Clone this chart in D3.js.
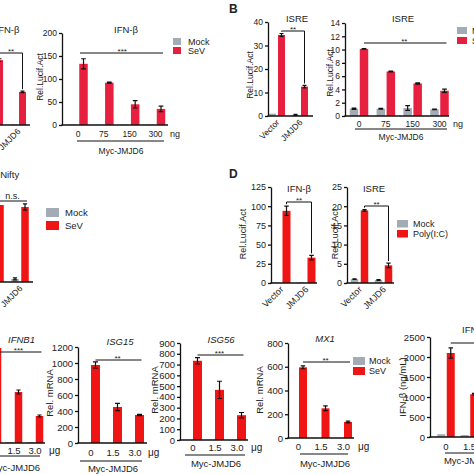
<!DOCTYPE html>
<html><head><meta charset="utf-8">
<script src="https://cdn.jsdelivr.net/npm/d3@7"></script>
<style>
body{margin:0;background:#fff}
svg{display:block}
svg text{font-family:"Liberation Sans",Arial,Helvetica,sans-serif;fill:#222}
</style>
</head><body>
<svg id="c" width="474" height="474"></svg>
<script>
// ---------- categories ----------
const vecCats = ["Vector", "JMJD6"];
const doseNg = ["0", "75", "150", "300"];
const doseUg = ["0", "1.5", "3.0"];
const legendSeV = ["Mock", "SeV"];
const legendPoly = ["Mock", "Poly(I:C)"];

// ---------- Panel A ----------
const aVecMock = [1, 1];
const aVecSeV = [141, 72];
const aVecSeVErr = [3, 1.5];
const aDoseMock = [1, 0.5, 1, 1];
const aDoseSeV = [133, 92, 45, 35];
const aDoseSeVErr = [11, 1, 8, 6];
const aTicks = [0, 50, 100, 150, 200];

// ---------- Panel B ----------
const bVecMock = [1, 0.5];
const bVecMockErr = [0, 0.2];
const bVecSeV = [34.5, 12.5];
const bVecSeVErr = [0.6, 0.5];
const bVecTicks = [0, 10, 20, 30, 40];
const bDoseMock = [1.1, 1.1, 1.2, 1.0];
const bDoseMockErr = [0.1, 0.05, 0.35, 0.05];
const bDoseSeV = [10.1, 6.7, 4.9, 3.8];
const bDoseSeVErr = [0.05, 0.05, 0.1, 0.25];
const bDoseTicks = [0, 2, 4, 6, 8, 10, 12, 14];

// ---------- Panel C ----------
const cMock = [0.5, 3];
const cMockErr = [0, 1];
const cSeV = [75.5, 73.5];
const cSeVErr = [0, 3];
const cTicks = [0, 25, 50, 75, 100];

// ---------- Panel D ----------
const dIfnMock = [1, 1];
const dIfnPoly = [94, 33];
const dIfnPolyErr = [6, 3];
const dIfnTicks = [0, 25, 50, 75, 100, 125];
const dIsreMock = [1, 0.8];
const dIsreMockErr = [0.05, 0.1];
const dIsrePoly = [18.9, 4.6];
const dIsrePolyErr = [0.2, 0.6];
const dIsreTicks = [0, 5, 10, 15, 20, 25];

// ---------- Panel E ----------
const eMockMrna = [1, 1, 1];
const eIfnb1SeV = [95, 51, 27];
const eIfnb1Err = [5, 2, 1];
const eIfnb1Ticks = [0, 25, 50, 75, 100];
const eIsg15SeV = [975, 450, 350];
const eIsg15Err = [40, 45, 8];
const eIsg15Ticks = [0, 200, 400, 600, 800, 1000, 1200];
const eIsg56SeV = [735, 465, 230];
const eIsg56Err = [30, 80, 25];
const eIsg56Ticks = [0, 100, 200, 300, 400, 500, 600, 700, 800, 900];
const eMx1SeV = [595, 250, 135];
const eMx1Err = [12, 20, 7];
const eMx1Ticks = [0, 200, 400, 600, 800];
const eElisaMock = [70, 50, 45];
const eElisaSeV = [2100, 1070, 520];
const eElisaErr = [130, 20, 40];
const eElisaTicks = [0, 500, 1000, 1500, 2000, 2500];

// ---------- styles ----------
const GRAY = "#a3abb4";
const CRIMSON = "#e8203f";
const RED = "#ef1515";
const INK = "#111";

const svg = d3.select("#c");

function drawPanel(o) {
  const g = svg.append("g");
  const keys = o.series.map(s => s.key);
  const x = d3.scalePoint().domain(o.cats).range(o.xr);
  const xs = d3.scalePoint().domain(keys).range([-o.off, o.off]);
  const y = d3.scaleLinear().domain(o.domain).range([o.base, o.top]);
  const last = keys[keys.length - 1];

  o.series.forEach(s => {
    const data = o.cats.map((c, i) => ({c, v: s.vals[i], e: s.errs ? s.errs[i] : 0}));
    g.selectAll(null).data(data).join("rect")
      .attr("x", d => x(d.c) + xs(s.key) - o.bw / 2)
      .attr("width", o.bw)
      .attr("y", d => y(d.v))
      .attr("height", d => y(0) - y(d.v))
      .attr("fill", s.color);
    g.selectAll(null).data(data.filter(d => d.e > 0)).join("path")
      .attr("d", d => {
        const cx = x(d.c) + xs(s.key), cw = Math.max(1.5, o.bw * 0.28);
        const y1 = y(d.v + d.e), y0 = Math.min(y(d.v - d.e), y(0));
        return `M${cx},${y0}V${y1}M${cx - cw},${y1}H${cx + cw}M${cx - cw},${y0}H${cx + cw}`;
      })
      .attr("stroke", INK).attr("stroke-width", 1.2).attr("fill", "none");
  });

  // y axis (its tick labels are left out when the whole axis lies outside the picture)
  const offscreen = o.axisX < 0;
  const ya = d3.axisLeft(y).tickValues(o.ticks).tickSize(3).tickSizeOuter(0).tickPadding(2)
    .tickFormat(offscreen ? () => "" : d3.format("d"));
  const yg = g.append("g").attr("transform", `translate(${o.axisX},0)`).call(ya);
  yg.select(".domain").attr("stroke", INK).attr("stroke-width", 1.3);
  yg.selectAll(".tick line").attr("stroke", INK).attr("stroke-width", 1.3);
  yg.selectAll(".tick text").attr("font-size", o.fs);

  // baseline
  g.append("line").attr("x1", o.axisX - 0.6).attr("x2", o.xEnd)
    .attr("y1", y(0)).attr("y2", y(0)).attr("stroke", INK).attr("stroke-width", 1.3);

  // x labels
  if (o.rot) {
    g.selectAll(null).data(o.cats.filter(c => x(c) > 0)).join("text")
      .attr("transform", c => `translate(${x(c) + o.rdx},${o.base + o.rdy}) rotate(-45)`)
      .attr("text-anchor", "end").attr("font-size", o.fs).text(c => c);
  } else {
    g.selectAll(null).data(o.cats.filter(c => x(c) > 0 && x(c) < 474)).join("text")
      .attr("x", c => x(c)).attr("y", o.lblY)
      .attr("text-anchor", "middle").attr("font-size", o.fs).text(c => c);
    if (o.unit) g.append("text").attr("x", o.unitX).attr("y", o.lblY)
      .attr("font-size", o.fs + 0.5).text(o.unit);
  }

  // group caption
  if (o.grp) {
    g.append("line").attr("x1", o.grp.x1).attr("x2", o.grp.x2)
      .attr("y1", o.grp.y).attr("y2", o.grp.y).attr("stroke", INK).attr("stroke-width", 1);
    g.append("text").attr("x", o.grp.tx).attr("y", o.grp.ty).attr("text-anchor", "middle")
      .attr("font-size", o.fs).text("Myc-JMJD6");
  }

  // title
  g.append("text").attr("x", o.titleX).attr("y", o.titleY).attr("text-anchor", "middle")
    .attr("font-size", o.tfs || 9.5).attr("font-style", o.italic ? "italic" : null).text(o.title);

  // y label
  if (o.ylabel) g.append("text")
    .attr("transform", `translate(${o.ylabelX},${o.ylabelY}) rotate(-90)`)
    .attr("text-anchor", "middle").attr("font-size", o.yfs || o.fs).text(o.ylabel);

  // significance
  if (o.sig) {
    const s0 = o.sig;
    const sv = o.series[o.series.length - 1];
    const xa = x(o.cats[0]) + xs(last), xb = x(o.cats[o.cats.length - 1]) + xs(last);
    let d;
    if (s0.bracket) {
      const ya0 = y(sv.vals[0] + (sv.errs ? sv.errs[0] : 0)) - 2;
      const yb0 = y(sv.vals[1] + (sv.errs ? sv.errs[1] : 0)) - 2;
      d = `M${xa},${Math.max(ya0, s0.y)}V${s0.y}H${xb}V${yb0}`;
    } else {
      d = `M${s0.x1 !== undefined ? s0.x1 : xa},${s0.y}H${xb + 2}`;
    }
    g.append("path").attr("d", d).attr("fill", "none").attr("stroke", INK).attr("stroke-width", 1);
    const lx = s0.lx !== undefined ? s0.lx : (xa + xb) / 2;
    if (lx < 474) g.append("text").attr("x", lx).attr("y", s0.y + s0.ldy)
      .attr("text-anchor", "middle").attr("font-size", s0.fs || 8).text(s0.label);
  }

  // legend
  if (o.legend) {
    const L = o.legend;
    L.labels.forEach((lab, i) => {
      g.append("rect").attr("x", L.x).attr("y", L.y + i * L.gap).attr("width", L.w).attr("height", L.h)
        .attr("fill", o.series[i].color);
      g.append("text").attr("x", L.tx).attr("y", L.y + i * L.gap + L.h / 2)
        .attr("dy", "0.35em").attr("font-size", L.fs).text(lab);
    });
  }
}

// Panel letters
svg.append("text").attr("x", 229).attr("y", 13).attr("font-size", 12).attr("font-weight", "bold").text("B");
svg.append("text").attr("x", 229).attr("y", 178).attr("font-size", 12).attr("font-weight", "bold").text("D");

// ---- A left (cut) ----
drawPanel({
  cats: vecCats, xr: [-5, 18], off: 4.5, bw: 7,
  series: [{key: "Mock", vals: aVecMock, color: GRAY}, {key: "SeV", vals: aVecSeV, errs: aVecSeVErr, color: CRIMSON}],
  domain: [0, 200], ticks: aTicks, base: 125, top: 33, axisX: -40, xEnd: 30, fs: 8.5,
  rot: true, rdx: 3, rdy: 7,
  title: "IFN-β", titleX: 7.5, titleY: 33,
  sig: {bracket: true, y: 53, label: "**", ldy: 0.5}
});

// ---- A right ----
drawPanel({
  cats: doseNg, xr: [78, 155.5], off: 5.5, bw: 8.5,
  series: [{key: "Mock", vals: aDoseMock, color: GRAY}, {key: "SeV", vals: aDoseSeV, errs: aDoseSeVErr, color: CRIMSON}],
  domain: [0, 200], ticks: aTicks, base: 125, top: 33, axisX: 62, xEnd: 168, fs: 8.5,
  lblY: 137, unit: "ng", unitX: 170,
  grp: {y: 141, x1: 77, x2: 164, tx: 121, ty: 154},
  title: "IFN-β", titleX: 126, titleY: 33,
  ylabel: "Rel.Lucif.Act", ylabelX: 43, ylabelY: 77,
  sig: {y: 53, x1: 80, label: "***", ldy: 0.5},
  legend: {labels: legendSeV, x: 173, y: 38, w: 8, h: 7, gap: 9, tx: 188, fs: 9}
});

// ---- B left ----
drawPanel({
  cats: vecCats, xr: [277, 300], off: 4.5, bw: 7,
  series: [{key: "Mock", vals: bVecMock, errs: bVecMockErr, color: GRAY}, {key: "SeV", vals: bVecSeV, errs: bVecSeVErr, color: CRIMSON}],
  domain: [0, 40], ticks: bVecTicks, base: 116, top: 22, axisX: 268, xEnd: 313, fs: 8.5,
  rot: true, rdx: 3, rdy: 7,
  title: "ISRE", titleX: 297, titleY: 22,
  ylabel: "Rel.Lucif.Act", ylabelX: 253, ylabelY: 75,
  sig: {bracket: true, y: 31, label: "**", ldy: 0.5}
});

// ---- B right ----
drawPanel({
  cats: doseNg, xr: [359, 439.5], off: 5, bw: 8.5,
  series: [{key: "Mock", vals: bDoseMock, errs: bDoseMockErr, color: GRAY}, {key: "SeV", vals: bDoseSeV, errs: bDoseSeVErr, color: CRIMSON}],
  domain: [0, 14], ticks: bDoseTicks, base: 116, top: 23, axisX: 345, xEnd: 449, fs: 8.5,
  lblY: 127, unit: "ng", unitX: 453,
  grp: {y: 129, x1: 355, x2: 447, tx: 401, ty: 140},
  title: "ISRE", titleX: 403, titleY: 22,
  ylabel: "Rel.Lucif.Act", ylabelX: 333, ylabelY: 73,
  sig: {y: 43, label: "**", ldy: 0.5},
  legend: {labels: legendSeV, x: 457, y: 27, w: 10, h: 7, gap: 10, tx: 472, fs: 9}
});

// ---- C (cut) ----
drawPanel({
  cats: vecCats, xr: [-5, 20], off: 5, bw: 7.5,
  series: [{key: "Mock", vals: cMock, errs: cMockErr, color: GRAY}, {key: "SeV", vals: cSeV, errs: cSeVErr, color: RED}],
  domain: [0, 100], ticks: cTicks, base: 282, top: 180, axisX: -40, xEnd: 33, fs: 8.5,
  rot: true, rdx: 3, rdy: 7,
  title: "pNifty", titleX: 7, titleY: 178,
  sig: {y: 201, x1: -20, label: "n.s.", ldy: -2.5, fs: 9},
  legend: {labels: legendSeV, x: 46, y: 208, w: 13, h: 9, gap: 13, tx: 65, fs: 9.5}
});

// ---- D left ----
drawPanel({
  cats: vecCats, xr: [281, 306], off: 5.5, bw: 8,
  series: [{key: "Mock", vals: dIfnMock, color: GRAY}, {key: "Poly(I:C)", vals: dIfnPoly, errs: dIfnPolyErr, color: RED}],
  domain: [0, 125], ticks: dIfnTicks, base: 283, top: 187, axisX: 271, xEnd: 317, fs: 9,
  rot: true, rdx: 3, rdy: 7,
  title: "IFN-β", titleX: 299, titleY: 192,
  ylabel: "Rel.Lucif.Act", ylabelX: 246, ylabelY: 234,
  sig: {bracket: true, y: 202, label: "**", ldy: 0.5}
});

// ---- D right ----
drawPanel({
  cats: vecCats, xr: [359.5, 383.5], off: 5, bw: 7.5,
  series: [{key: "Mock", vals: dIsreMock, errs: dIsreMockErr, color: GRAY}, {key: "Poly(I:C)", vals: dIsrePoly, errs: dIsrePolyErr, color: RED}],
  domain: [0, 25], ticks: dIsreTicks, base: 283, top: 187, axisX: 347, xEnd: 394, fs: 9,
  rot: true, rdx: 3, rdy: 7,
  title: "ISRE", titleX: 374, titleY: 192,
  ylabel: "Rel.Lucif.Act", ylabelX: 338, ylabelY: 234,
  sig: {bracket: true, y: 206, label: "**", ldy: 0.5},
  legend: {labels: legendPoly, x: 397, y: 220, w: 11, h: 7.5, gap: 10, tx: 413, fs: 9}
});

// ---- E: IFNB1 (cut) ----
drawPanel({
  cats: doseUg, xr: [-7, 35], off: 4.5, bw: 7.5,
  series: [{key: "Mock", vals: eMockMrna, color: GRAY}, {key: "SeV", vals: eIfnb1SeV, errs: eIfnb1Err, color: RED}],
  domain: [0, 100], ticks: eIfnb1Ticks, base: 443, top: 343, axisX: -40, xEnd: 45, fs: 9.5,
  lblY: 454, unit: "μg", unitX: 49,
  grp: {y: 456, x1: -20, x2: 40, tx: 15, ty: 471},
  title: "IFNB1", italic: true, titleX: 21.5, titleY: 343,
  sig: {y: 352, x1: -20, label: "***", ldy: 0.5}
});

// ---- E: ISG15 ----
drawPanel({
  cats: doseUg, xr: [91, 135], off: 4.5, bw: 9,
  series: [{key: "Mock", vals: eMockMrna, color: GRAY}, {key: "SeV", vals: eIsg15SeV, errs: eIsg15Err, color: RED}],
  domain: [0, 1200], ticks: eIsg15Ticks, base: 443, top: 347, axisX: 78, xEnd: 147, fs: 9.5,
  lblY: 456, unit: "μg", unitX: 148,
  grp: {y: 461, x1: 80, x2: 142, tx: 113, ty: 472},
  title: "ISG15", italic: true, titleX: 120, titleY: 345,
  ylabel: "Rel. mRNA", ylabelX: 53, ylabelY: 393,
  sig: {y: 360, label: "**", ldy: 0.5}
});

// ---- E: ISG56 ----
drawPanel({
  cats: doseUg, xr: [193, 237], off: 4.5, bw: 9,
  series: [{key: "Mock", vals: eMockMrna, color: GRAY}, {key: "SeV", vals: eIsg56SeV, errs: eIsg56Err, color: RED}],
  domain: [0, 900], ticks: eIsg56Ticks, base: 440, top: 343, axisX: 180, xEnd: 248, fs: 9.5,
  lblY: 451, unit: "μg", unitX: 251,
  grp: {y: 455, x1: 185, x2: 245, tx: 216, ty: 467},
  title: "ISG56", italic: true, titleX: 221, titleY: 343,
  ylabel: "Rel. mRNA", ylabelX: 158, ylabelY: 390,
  sig: {y: 355, label: "***", ldy: 0.5}
});

// ---- E: MX1 ----
drawPanel({
  cats: doseUg, xr: [298.5, 343.5], off: 4.5, bw: 8,
  series: [{key: "Mock", vals: eMockMrna, color: GRAY}, {key: "SeV", vals: eMx1SeV, errs: eMx1Err, color: RED}],
  domain: [0, 800], ticks: eMx1Ticks, base: 438, top: 343, axisX: 288, xEnd: 354, fs: 9.5,
  lblY: 450, unit: "μg", unitX: 358,
  grp: {y: 454, x1: 300, x2: 348, tx: 325, ty: 467},
  title: "MX1", italic: true, titleX: 325, titleY: 342,
  ylabel: "Rel. mRNA", ylabelX: 263, ylabelY: 390,
  sig: {y: 362, label: "**", ldy: 0.5},
  legend: {labels: legendSeV, x: 353, y: 357, w: 12, h: 8, gap: 10, tx: 369, fs: 9}
});

// ---- E: IFN-β ELISA (cut) ----
drawPanel({
  cats: doseUg, xr: [446, 493], off: 4.75, bw: 8,
  series: [{key: "Mock", vals: eElisaMock, color: GRAY}, {key: "SeV", vals: eElisaSeV, errs: eElisaErr, color: RED}],
  domain: [0, 2500], ticks: eElisaTicks, base: 437, top: 337, axisX: 430, xEnd: 520, fs: 9.5,
  lblY: 450,
  grp: {y: 453, x1: 445, x2: 520, tx: 469, ty: 464},
  title: "IFN-β", titleX: 474, titleY: 333,
  ylabel: "IFN-β (ng/mL)", ylabelX: 406, ylabelY: 387,
  sig: {y: 343, label: "***", ldy: 0.5}
});
</script>
</body></html>
